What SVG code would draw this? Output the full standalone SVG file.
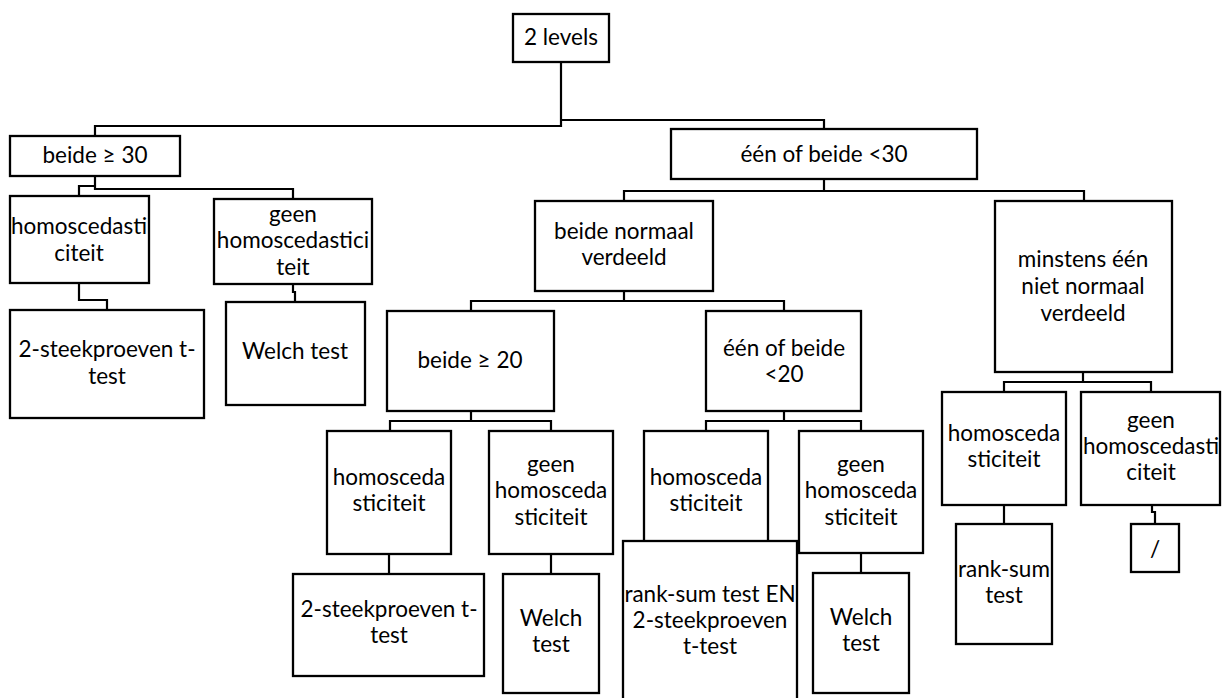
<svg xmlns="http://www.w3.org/2000/svg" width="1224" height="698" viewBox="0 0 1224 698">
<style>
.b{fill:#fff;stroke:#000;stroke-width:2.3}
.c{fill:none;stroke:#000;stroke-width:2.2}
text{font-family:Lato,"Liberation Sans",sans-serif;font-size:22.5px;fill:#000;text-anchor:middle}
</style>
<rect width="1224" height="698" fill="#fff"/>
<g id="connectors" class="c">
<path d="M561,62 V126 H95 V136"/>
<path d="M561,120 H824 V129"/>
<path d="M95,176 V189 H293 V199"/>
<path d="M95,186 H79 V196"/>
<path d="M79,283 V300 H107 V310"/>
<path d="M293,284 V292 H295 V302"/>
<path d="M824,179 V191 H624 V201"/>
<path d="M824,191 H1084 V201"/>
<path d="M624,291 V301 H471 V311"/>
<path d="M624,301 H784 V311"/>
<path d="M471,411 V421 H390 V431"/>
<path d="M471,421 H551 V431"/>
<path d="M784,411 V421 H706 V431"/>
<path d="M784,421 H861 V431"/>
<path d="M389,554 V574"/>
<path d="M551,554 V574"/>
<path d="M861,553 V573"/>
<path d="M1083,372 V382 H1004 V392"/>
<path d="M1083,382 H1151 V392"/>
<path d="M1004,505 V524"/>
<path d="M1152,505 V512 H1155 V524"/>
</g>
<g id="n_root"><rect class="b" x="513" y="14" width="96" height="48"/><text x="561" y="45">2 levels</text></g>
<g id="n_b30"><rect class="b" x="10" y="136" width="170" height="40"/><text x="95" y="163">beide ≥ 30</text></g>
<g id="n_e30"><rect class="b" x="671" y="129" width="306" height="50"/><text x="824" y="162">één of beide &lt;30</text></g>
<g id="n_homo1"><rect class="b" x="10" y="196" width="139" height="87"/><text x="79" y="234">homoscedasti</text><text x="79" y="261">citeit</text></g>
<g id="n_geen1"><rect class="b" x="214" y="199" width="158" height="85"/><text x="293" y="222">geen</text><text x="293" y="248">homoscedastici</text><text x="293" y="275">teit</text></g>
<g id="n_t1"><rect class="b" x="10" y="310" width="194" height="108"/><text x="107" y="357">2-steekproeven t-</text><text x="107" y="384">test</text></g>
<g id="n_w1"><rect class="b" x="226" y="302" width="139" height="103"/><text x="295" y="359">Welch test</text></g>
<g id="n_bn"><rect class="b" x="535" y="201" width="178" height="90"/><text x="624" y="239">beide normaal</text><text x="624" y="265">verdeeld</text></g>
<g id="n_mn"><rect class="b" x="995" y="201" width="177" height="171"/><text x="1083" y="267">minstens één</text><text x="1083" y="294">niet normaal</text><text x="1083" y="321">verdeeld</text></g>
<g id="n_b20"><rect class="b" x="387" y="311" width="167" height="100"/><text x="470" y="368">beide ≥ 20</text></g>
<g id="n_e20"><rect class="b" x="706" y="311" width="155" height="100"/><text x="784" y="356">één of beide</text><text x="784" y="382">&lt;20</text></g>
<g id="n_homo2"><rect class="b" x="327" y="431" width="124" height="123"/><text x="389" y="485">homosceda</text><text x="389" y="511">sticiteit</text></g>
<g id="n_geen2"><rect class="b" x="489" y="431" width="124" height="123"/><text x="551" y="472">geen</text><text x="551" y="498">homosceda</text><text x="551" y="525">sticiteit</text></g>
<g id="n_t2"><rect class="b" x="293" y="574" width="191" height="102"/><text x="389" y="617">2-steekproeven t-</text><text x="389" y="643">test</text></g>
<g id="n_w2"><rect class="b" x="503" y="574" width="96" height="119"/><text x="551" y="626">Welch</text><text x="551" y="652">test</text></g>
<g id="n_homo3"><rect class="b" x="644" y="431" width="124" height="130"/><text x="706" y="485">homosceda</text><text x="706" y="511">sticiteit</text></g>
<g id="n_geen3"><rect class="b" x="799" y="431" width="124" height="122"/><text x="861" y="472">geen</text><text x="861" y="498">homosceda</text><text x="861" y="525">sticiteit</text></g>
<g id="n_rs2"><rect class="b" x="623" y="541" width="174" height="170"/><text x="710" y="602">rank-sum test EN</text><text x="710" y="628">2-steekproeven</text><text x="710" y="654">t-test</text></g>
<g id="n_w3"><rect class="b" x="813" y="573" width="96" height="120"/><text x="861" y="625">Welch</text><text x="861" y="651">test</text></g>
<g id="n_homo4"><rect class="b" x="942" y="392" width="124" height="113"/><text x="1004" y="441">homosceda</text><text x="1004" y="467">sticiteit</text></g>
<g id="n_geen4"><rect class="b" x="1081" y="392" width="139" height="113"/><text x="1151" y="428">geen</text><text x="1151" y="454">homoscedasti</text><text x="1151" y="480">citeit</text></g>
<g id="n_rs1"><rect class="b" x="956" y="524" width="96" height="120"/><text x="1004" y="577">rank-sum</text><text x="1004" y="603">test</text></g>
<g id="n_slash"><rect class="b" x="1131" y="524" width="48" height="48"/><text x="1155" y="557">/</text></g>
</svg>
